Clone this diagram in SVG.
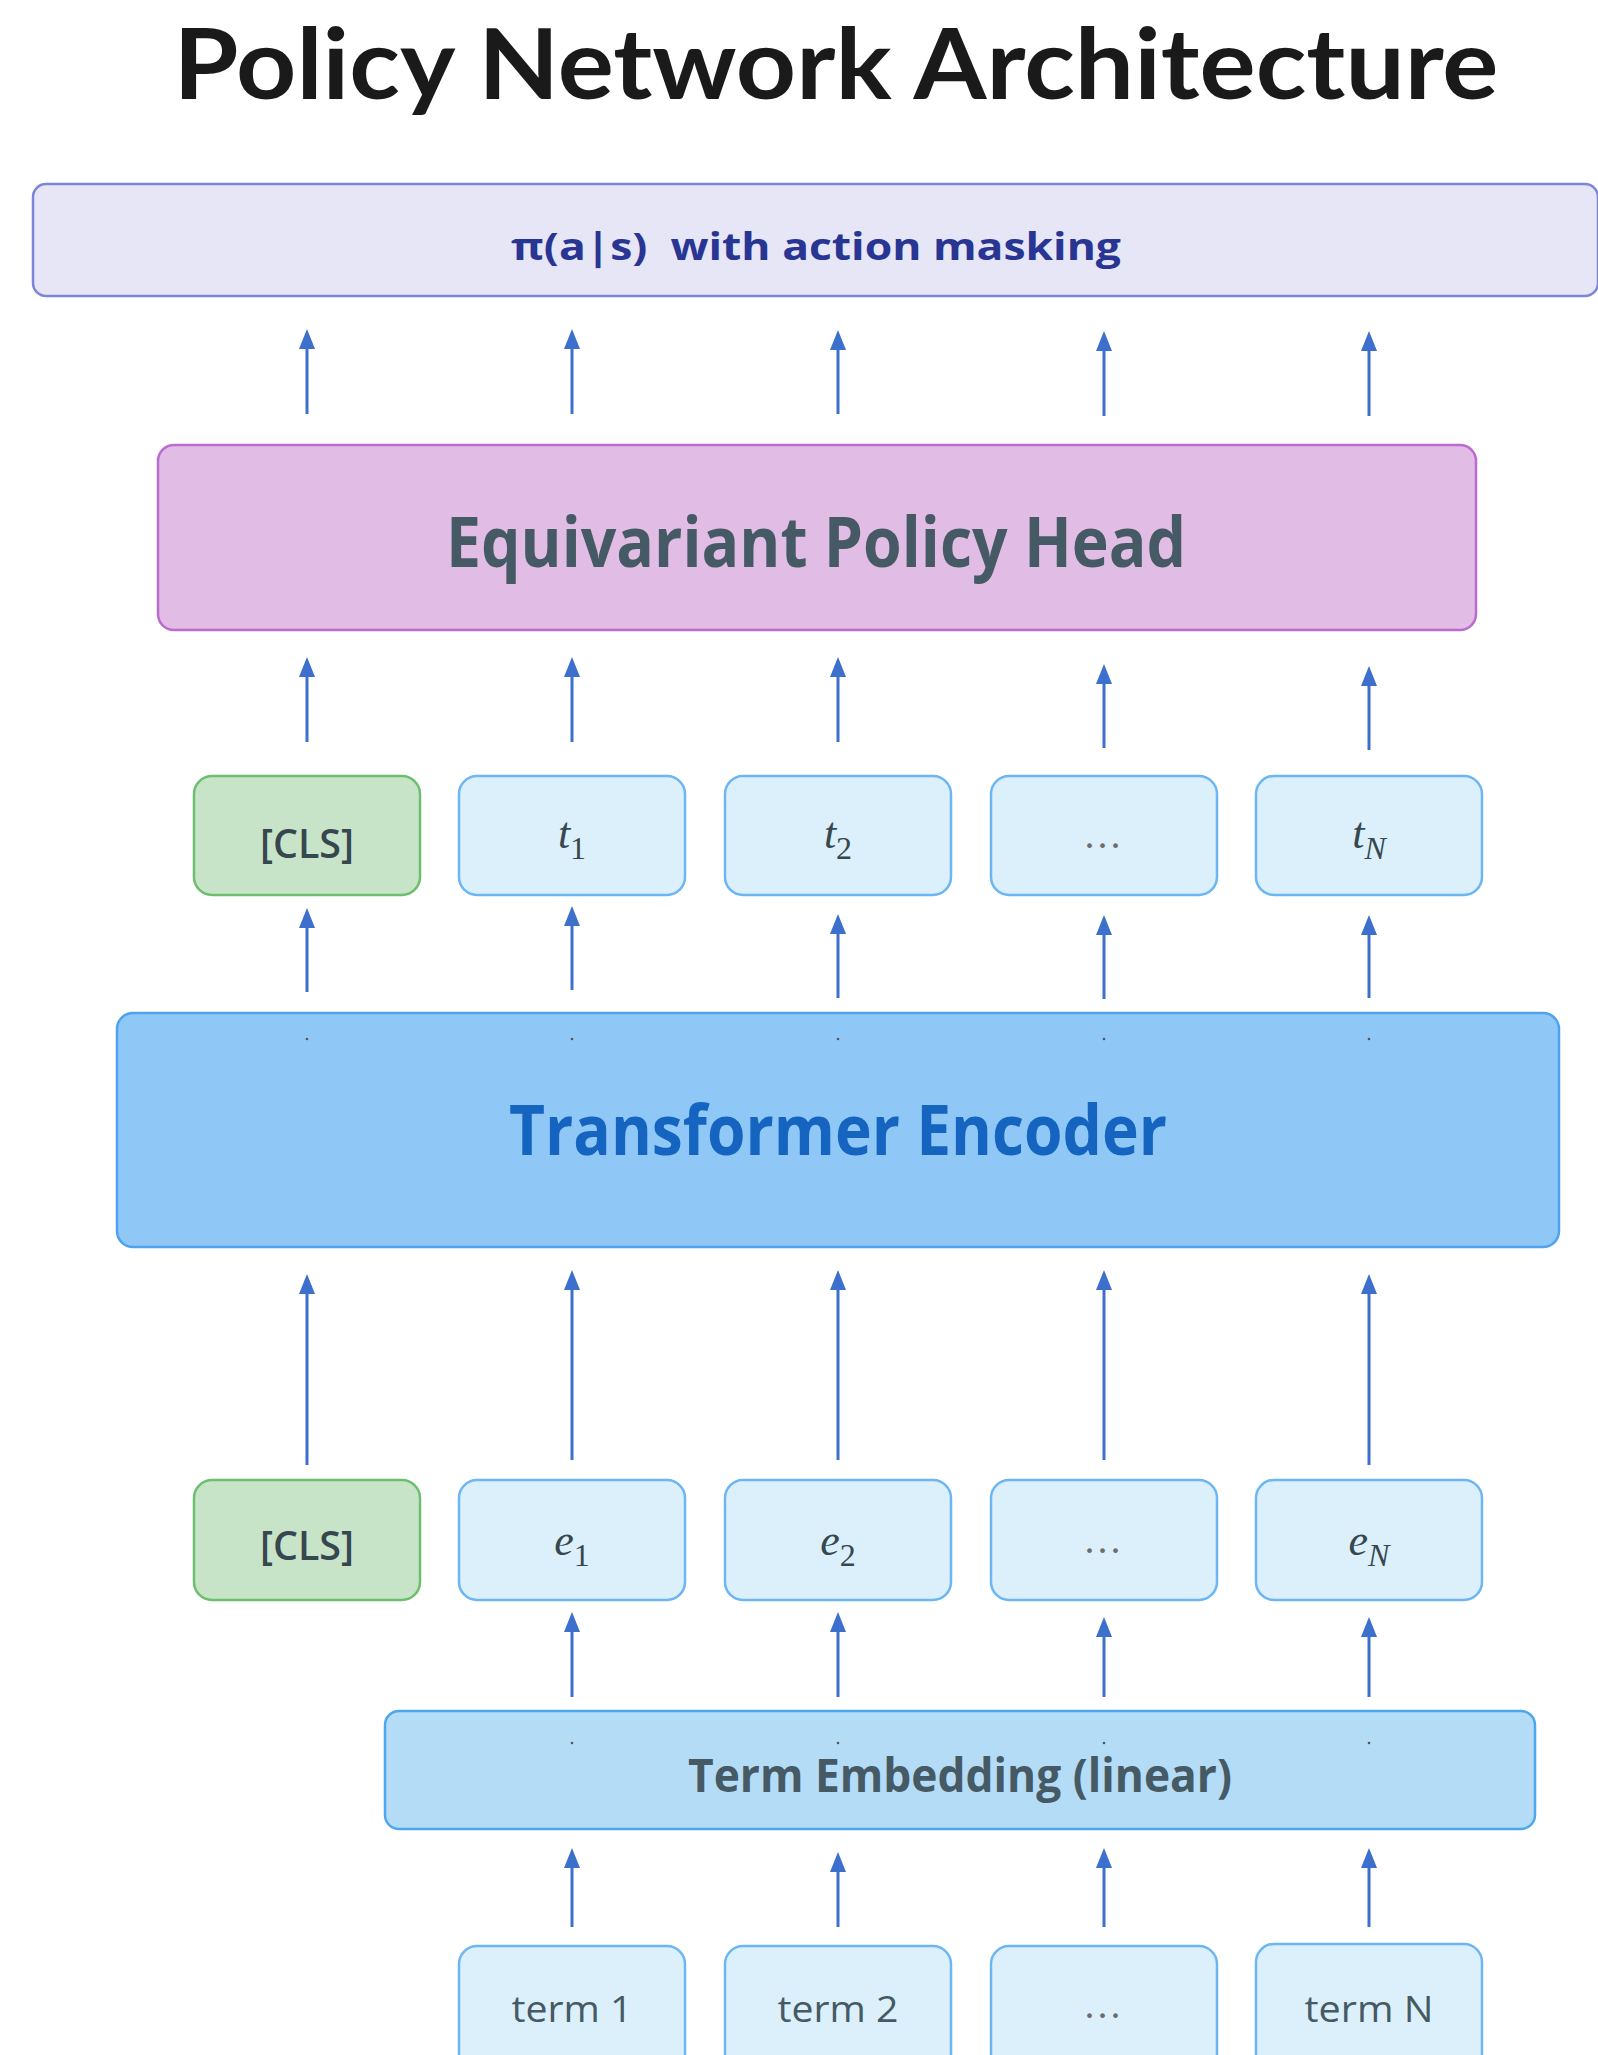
<svg xmlns="http://www.w3.org/2000/svg" width="1598" height="2055" viewBox="0 0 1598 2055">
<style>
.sans{font-family:"Open Sans","Noto Sans","Liberation Sans",sans-serif}
.serif{font-family:"Liberation Serif","DejaVu Serif",serif}
.arr{stroke:#3d6fcc;stroke-width:3;fill:none;marker-end:url(#ah)}
.tok{fill:#dcf0fb;stroke:#6db6f4;stroke-width:2.5}
.cls{fill:#c8e4c8;stroke:#6dbf6d;stroke-width:2.5}
.lbl{fill:#455a64}
.math{fill:#37474f;font-size:44px}
.dots{fill:#6d6d6d;font-size:40px;letter-spacing:3px}
.pt{fill:#555}
</style>
<defs>
<marker id="ah" markerUnits="userSpaceOnUse" markerWidth="22" markerHeight="16" refX="2" refY="8" orient="auto">
<path d="M0,0 L20,8 L0,16 Z" fill="#3d6fcc"/>
</marker>
</defs>
<rect width="1598" height="2055" fill="#ffffff"/>

<g id="title">
<text x="836" y="99" font-family="Lato, 'Open Sans', sans-serif" font-size="98" font-weight="700" fill="#1a1a1a" text-anchor="middle" textLength="1325" lengthAdjust="spacingAndGlyphs">Policy Network Architecture</text>
</g>

<g id="policy-output">
<rect x="33" y="184" width="1565" height="112" rx="13" fill="#e6e6f6" stroke="#7b86d6" stroke-width="2.5"/>
<text class="sans" x="816" y="260" font-size="38" font-weight="700" fill="#283593" text-anchor="middle" xml:space="preserve" textLength="610" lengthAdjust="spacingAndGlyphs">π(a|s)  with action masking</text>
</g>

<g id="policy-head">
<rect x="158" y="445" width="1318" height="185" rx="16" fill="#e1bce4" stroke="#bb6bd0" stroke-width="2.5"/>
<text class="sans" x="816" y="567" font-size="70" font-weight="700" fill="#455a64" text-anchor="middle" textLength="740" lengthAdjust="spacingAndGlyphs">Equivariant Policy Head</text>
</g>

<g id="out-cls">
<rect class="cls" x="194" y="776" width="226" height="119" rx="18"/>
<text class="sans" x="307" y="858" font-size="40" font-weight="600" fill="#37474f" text-anchor="middle" textLength="94" lengthAdjust="spacingAndGlyphs">[CLS]</text>
</g>
<g id="out-t1">
<rect class="tok" x="459" y="776" width="226" height="119" rx="18"/>
<text class="serif math" x="572" y="848" text-anchor="middle"><tspan font-style="italic">t</tspan><tspan font-size="32" dy="11">1</tspan></text>
</g>
<g id="out-t2">
<rect class="tok" x="725" y="776" width="226" height="119" rx="18"/>
<text class="serif math" x="838" y="848" text-anchor="middle"><tspan font-style="italic">t</tspan><tspan font-size="32" dy="11">2</tspan></text>
</g>
<g id="out-dots">
<rect class="tok" x="991" y="776" width="226" height="119" rx="18"/>
<text class="serif dots" x="1104" y="848" text-anchor="middle">...</text>
</g>
<g id="out-tN">
<rect class="tok" x="1256" y="776" width="226" height="119" rx="18"/>
<text class="serif math" x="1369" y="848" text-anchor="middle"><tspan font-style="italic">t</tspan><tspan font-size="32" font-style="italic" dy="11">N</tspan></text>
</g>

<g id="transformer">
<rect x="117" y="1013" width="1442" height="234" rx="16" fill="#8fc8f7" stroke="#4da3ef" stroke-width="2.5"/>
<circle class="pt" cx="307" cy="1039" r="1.3"/>
<circle class="pt" cx="572" cy="1039" r="1.3"/>
<circle class="pt" cx="838" cy="1039" r="1.3"/>
<circle class="pt" cx="1104" cy="1039" r="1.3"/>
<circle class="pt" cx="1369" cy="1039" r="1.3"/>
<text class="sans" x="838" y="1155" font-size="70" font-weight="700" fill="#1565c0" text-anchor="middle" textLength="658" lengthAdjust="spacingAndGlyphs">Transformer Encoder</text>
</g>

<g id="in-cls">
<rect class="cls" x="194" y="1480" width="226" height="120" rx="18"/>
<text class="sans" x="307" y="1560" font-size="40" font-weight="600" fill="#37474f" text-anchor="middle" textLength="94" lengthAdjust="spacingAndGlyphs">[CLS]</text>
</g>
<g id="in-e1">
<rect class="tok" x="459" y="1480" width="226" height="120" rx="18"/>
<text class="serif math" x="572" y="1555" font-size="48" text-anchor="middle"><tspan font-style="italic">e</tspan><tspan font-size="32" dy="11">1</tspan></text>
</g>
<g id="in-e2">
<rect class="tok" x="725" y="1480" width="226" height="120" rx="18"/>
<text class="serif math" x="838" y="1555" font-size="48" text-anchor="middle"><tspan font-style="italic">e</tspan><tspan font-size="32" dy="11">2</tspan></text>
</g>
<g id="in-dots">
<rect class="tok" x="991" y="1480" width="226" height="120" rx="18"/>
<text class="serif dots" x="1104" y="1553" text-anchor="middle">...</text>
</g>
<g id="in-eN">
<rect class="tok" x="1256" y="1480" width="226" height="120" rx="18"/>
<text class="serif math" x="1369" y="1555" font-size="48" text-anchor="middle"><tspan font-style="italic">e</tspan><tspan font-size="32" font-style="italic" dy="11">N</tspan></text>
</g>

<g id="term-embedding">
<rect x="385" y="1711" width="1150" height="118" rx="14" fill="#b5dcf6" stroke="#4ea6ee" stroke-width="2.5"/>
<circle class="pt" cx="572" cy="1743" r="1.3"/>
<circle class="pt" cx="838" cy="1743" r="1.3"/>
<circle class="pt" cx="1104" cy="1743" r="1.3"/>
<circle class="pt" cx="1369" cy="1743" r="1.3"/>
<text class="sans" x="960" y="1792" font-size="47" font-weight="700" fill="#455a64" text-anchor="middle" textLength="544" lengthAdjust="spacingAndGlyphs">Term Embedding (linear)</text>
</g>

<g id="term-1">
<rect class="tok" x="459" y="1946" width="226" height="130" rx="18"/>
<text class="sans lbl" x="572" y="2022" font-size="37" text-anchor="middle" textLength="121" lengthAdjust="spacingAndGlyphs">term 1</text>
</g>
<g id="term-2">
<rect class="tok" x="725" y="1946" width="226" height="130" rx="18"/>
<text class="sans lbl" x="838" y="2022" font-size="37" text-anchor="middle" textLength="121" lengthAdjust="spacingAndGlyphs">term 2</text>
</g>
<g id="term-dots">
<rect class="tok" x="991" y="1946" width="226" height="130" rx="18"/>
<text class="serif dots" x="1104" y="2018" text-anchor="middle">...</text>
</g>
<g id="term-N">
<rect class="tok" x="1256" y="1944" width="226" height="132" rx="18"/>
<text class="sans lbl" x="1369" y="2022" font-size="37" text-anchor="middle" textLength="129" lengthAdjust="spacingAndGlyphs">term N</text>
</g>

<g id="connectors">
<line class="arr" x1="307" y1="414" x2="307" y2="347"/>
<line class="arr" x1="572" y1="414" x2="572" y2="347"/>
<line class="arr" x1="838" y1="414" x2="838" y2="348"/>
<line class="arr" x1="1104" y1="416" x2="1104" y2="349"/>
<line class="arr" x1="1369" y1="416" x2="1369" y2="349"/>

<line class="arr" x1="307" y1="742" x2="307" y2="675"/>
<line class="arr" x1="572" y1="742" x2="572" y2="675"/>
<line class="arr" x1="838" y1="742" x2="838" y2="675"/>
<line class="arr" x1="1104" y1="748" x2="1104" y2="682"/>
<line class="arr" x1="1369" y1="750" x2="1369" y2="684"/>

<line class="arr" x1="307" y1="992" x2="307" y2="926"/>
<line class="arr" x1="572" y1="990" x2="572" y2="924"/>
<line class="arr" x1="838" y1="998" x2="838" y2="932"/>
<line class="arr" x1="1104" y1="999" x2="1104" y2="933"/>
<line class="arr" x1="1369" y1="998" x2="1369" y2="933"/>

<line class="arr" x1="307" y1="1465" x2="307" y2="1292"/>
<line class="arr" x1="572" y1="1460" x2="572" y2="1288"/>
<line class="arr" x1="838" y1="1460" x2="838" y2="1288"/>
<line class="arr" x1="1104" y1="1460" x2="1104" y2="1288"/>
<line class="arr" x1="1369" y1="1465" x2="1369" y2="1292"/>

<line class="arr" x1="572" y1="1697" x2="572" y2="1630"/>
<line class="arr" x1="838" y1="1697" x2="838" y2="1630"/>
<line class="arr" x1="1104" y1="1697" x2="1104" y2="1635"/>
<line class="arr" x1="1369" y1="1697" x2="1369" y2="1635"/>

<line class="arr" x1="572" y1="1927" x2="572" y2="1866"/>
<line class="arr" x1="838" y1="1927" x2="838" y2="1870"/>
<line class="arr" x1="1104" y1="1927" x2="1104" y2="1866"/>
<line class="arr" x1="1369" y1="1927" x2="1369" y2="1866"/>
</g>
</svg>
